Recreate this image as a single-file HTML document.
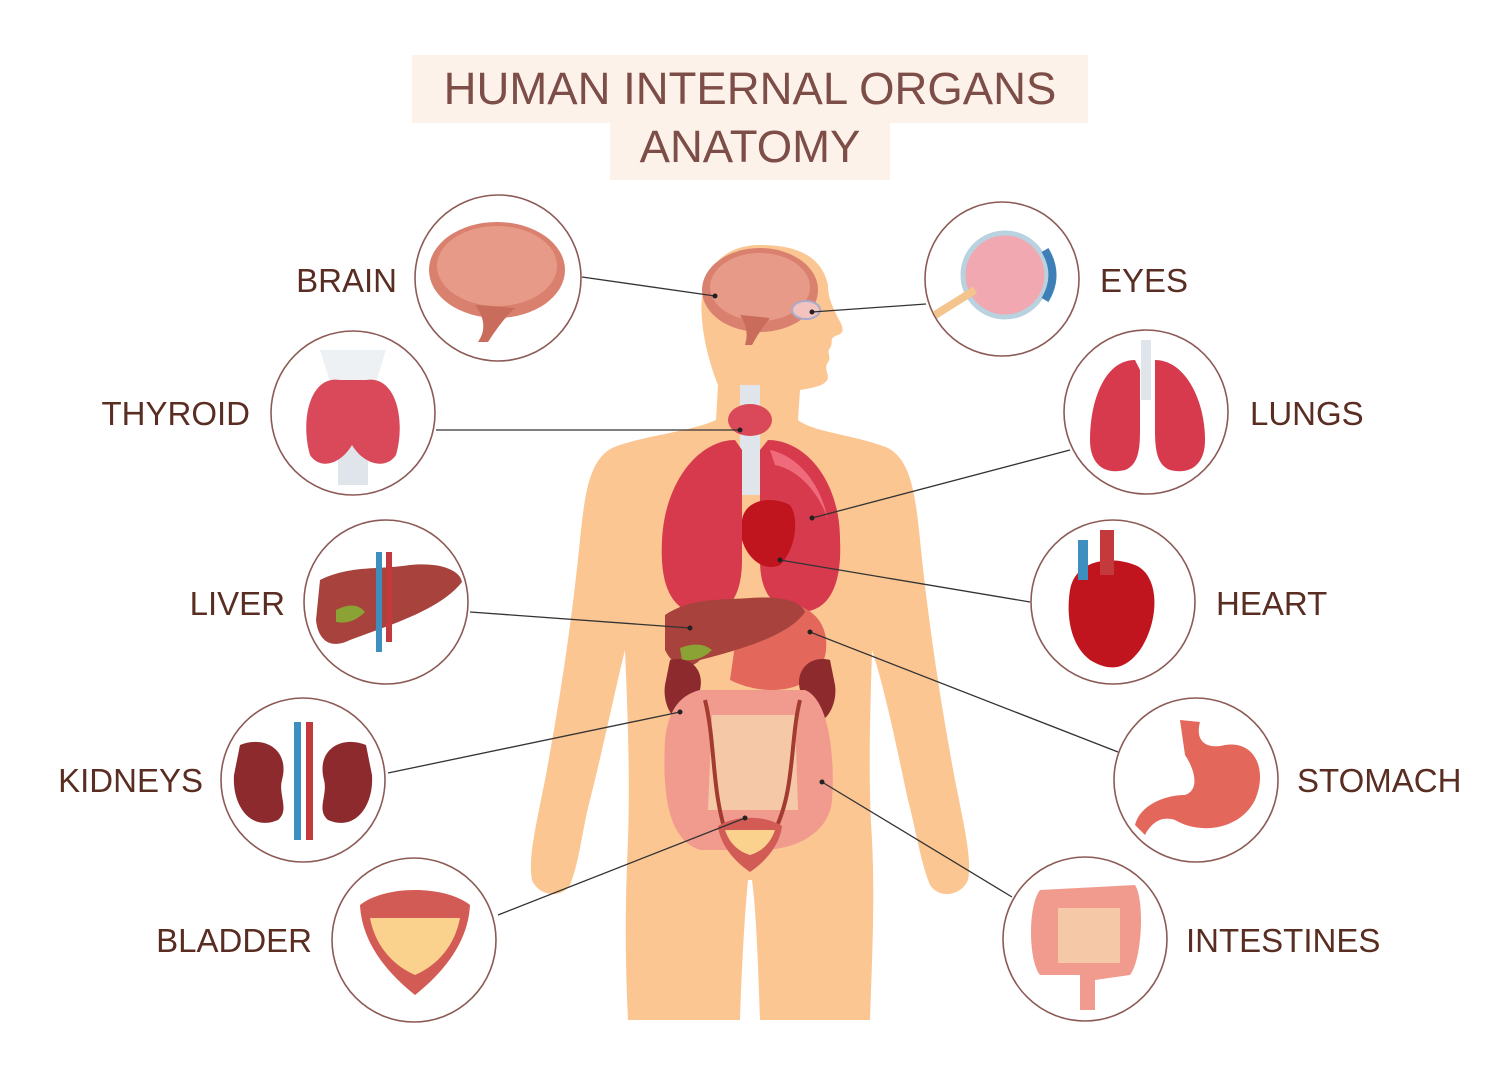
<!DOCTYPE html>
<html><head><meta charset="utf-8"><style>
html,body{margin:0;padding:0;background:#fff;}
svg{display:block}
text{font-family:"Liberation Sans",sans-serif;}
</style></head><body>
<svg width="1500" height="1084" viewBox="0 0 1500 1084" xmlns="http://www.w3.org/2000/svg">
<rect width="1500" height="1084" fill="#fff"/>
<rect x="412" y="55" width="676" height="68" fill="#fdf2ea"/>
<rect x="610" y="122" width="280" height="58" fill="#fdf2ea"/>
<text x="750" y="104" font-size="45.5" fill="#7d4d47" text-anchor="middle">HUMAN INTERNAL ORGANS</text>
<text x="750" y="162" font-size="45.5" fill="#7d4d47" text-anchor="middle">ANATOMY</text>

<path fill="#fbc692" d="M760 245 C715 245 698 280 702 320 C704 345 712 370 718 385 L716 420 C690 432 640 436 612 448 C590 460 585 490 580 540 C572 620 560 700 545 780 C535 830 528 860 532 880 C538 895 560 900 570 885 C580 860 582 830 590 800 C605 740 615 690 625 650 C628 720 630 780 628 840 C625 900 625 960 628 1020 L740 1020 C742 960 745 910 748 880 L752 880 C756 910 758 960 760 1020 L870 1020 C872 960 875 900 872 840 C868 780 870 720 872 650 C885 690 895 740 908 800 C916 830 920 860 930 885 C940 900 962 895 968 880 C972 860 965 830 955 780 C940 700 928 620 920 540 C915 490 910 460 888 448 C860 436 812 432 798 420 L800 390 C812 388 826 386 828 378 C828 372 824 368 828 362 C832 358 826 352 830 348 C834 342 828 338 838 335 C846 332 842 325 838 318 C832 305 828 298 828 285 C822 258 800 245 760 245 Z"/>

<ellipse cx="760" cy="290" rx="58" ry="42" fill="#d9806f"/>
<ellipse cx="760" cy="287" rx="50" ry="34" fill="#e89a88"/>
<path d="M740 315 Q750 330 745 345 L752 345 Q760 330 770 318 Z" fill="#c96c5c"/>
<ellipse cx="806" cy="310" rx="14" ry="9" fill="#f3c3c0" stroke="#aac" stroke-width="2"/>
<rect x="740" y="385" width="20" height="110" fill="#dfe5ea"/>
<ellipse cx="750" cy="420" rx="22" ry="16" fill="#d9495a"/>
<path d="M735 440 C700 440 665 480 662 540 C660 580 668 610 700 615 C725 618 742 600 742 560 L742 450 Z" fill="#d63a4c"/>
<path d="M768 440 C805 440 840 480 840 540 C842 580 832 612 800 612 C775 610 760 595 760 560 L760 450 Z" fill="#d63a4c"/>
<path d="M770 450 C795 455 820 480 828 520 C820 495 800 470 775 465 Z" fill="#ef6b7b"/>
<path d="M742 520 C745 500 770 495 790 505 C800 520 795 550 780 565 C765 572 748 560 742 540 Z" fill="#c0141e"/>
<path d="M740 610 C790 590 830 610 826 650 C822 690 770 700 730 680 Z" fill="#e3675b"/>
<path d="M665 615 C690 598 720 600 750 598 C780 596 800 600 805 612 C790 635 740 650 700 660 C690 670 675 670 665 650 Z" fill="#a7423c"/>
<path d="M680 648 Q700 640 712 650 Q700 662 682 660 Z" fill="#8aa334"/>
<path d="M670 660 C690 655 705 670 700 690 C695 700 705 715 695 722 C675 730 662 705 665 685 Z" fill="#8c2a2e"/>
<path d="M830 660 C810 655 795 670 800 690 C805 700 795 715 805 722 C825 730 838 705 835 685 Z" fill="#8c2a2e"/>
<path d="M700 690 L805 690 C830 700 835 760 832 800 C830 830 800 850 760 850 L700 850 C670 840 662 800 665 740 C668 710 680 695 700 690 Z" fill="#f19b8f"/>
<path d="M712 715 L795 715 L798 810 L708 810 Z" fill="#f5c9a8"/>
<path d="M705 700 C715 740 712 790 725 830 M800 700 C790 740 795 790 775 830" stroke="#a33b30" stroke-width="4" fill="none"/>
<path d="M718 826 C735 815 765 815 782 826 C780 845 765 862 750 872 C735 862 720 845 718 826 Z" fill="#d35b55"/>
<path d="M725 830 L775 830 C770 845 760 852 750 855 C740 852 730 845 725 830 Z" fill="#fad18d"/>

<g stroke="#333" stroke-width="1.3" fill="none">
<line x1="582" y1="277" x2="715" y2="296"/>
<line x1="926" y1="304" x2="812" y2="312"/>
<line x1="436" y1="430" x2="740" y2="430"/>
<line x1="1070" y1="450" x2="812" y2="518"/>
<line x1="1030" y1="602" x2="780" y2="560"/>
<line x1="470" y1="612" x2="690" y2="628"/>
<line x1="1118" y1="752" x2="810" y2="632"/>
<line x1="388" y1="773" x2="680" y2="712"/>
<line x1="498" y1="915" x2="745" y2="818"/>
<line x1="1012" y1="897" x2="822" y2="782"/>
</g>
<g fill="#222">
<circle cx="715" cy="296" r="2.5"/><circle cx="812" cy="312" r="2.5"/><circle cx="740" cy="430" r="2.5"/>
<circle cx="812" cy="518" r="2.5"/><circle cx="780" cy="560" r="2.5"/><circle cx="690" cy="628" r="2.5"/>
<circle cx="810" cy="632" r="2.5"/><circle cx="680" cy="712" r="2.5"/><circle cx="745" cy="818" r="2.5"/><circle cx="822" cy="782" r="2.5"/>
</g>

<g fill="#fff" stroke="#8b5a55" stroke-width="1.6">
<circle cx="498" cy="278" r="83"/>
<circle cx="353" cy="413" r="82"/>
<circle cx="386" cy="602" r="82"/>
<circle cx="303" cy="780" r="82"/>
<circle cx="414" cy="940" r="82"/>
<circle cx="1002" cy="279" r="77"/>
<circle cx="1146" cy="412" r="82"/>
<circle cx="1113" cy="602" r="82"/>
<circle cx="1196" cy="780" r="82"/>
<circle cx="1085" cy="939" r="82"/>
</g>

<ellipse cx="497" cy="270" rx="68" ry="48" fill="#d9806f"/>
<ellipse cx="497" cy="266" rx="60" ry="40" fill="#e89a88"/>
<path d="M475 305 Q490 325 478 342 L488 342 Q502 320 515 308 Z" fill="#c96c5c"/>
<rect x="338" y="350" width="30" height="135" fill="#dfe5ea"/>
<path d="M320 350 L386 350 L372 395 L334 395 Z" fill="#eef1f4"/>
<path d="M340 380 C310 375 300 420 310 455 C320 470 340 465 352 445 C364 465 386 470 396 455 C406 420 396 375 366 380 Z" fill="#d9495a"/>
<path d="M320 580 C350 565 380 570 410 565 C440 562 460 570 462 582 C440 610 390 625 350 640 C330 650 318 640 316 620 Z" fill="#a7423c"/>
<path d="M336 610 Q355 600 365 612 Q352 625 336 622 Z" fill="#8aa334"/>
<rect x="376" y="552" width="6" height="100" fill="#3d8fbf"/><rect x="386" y="552" width="6" height="90" fill="#c4393c"/>
<path d="M240 745 C265 735 290 750 282 780 C278 795 290 810 278 820 C250 832 232 805 234 775 Z" fill="#8c2a2e"/>
<path d="M366 745 C341 735 316 750 324 780 C328 795 316 810 328 820 C356 832 374 805 372 775 Z" fill="#8c2a2e"/>
<rect x="294" y="722" width="7" height="118" fill="#3d8fbf"/><rect x="306" y="722" width="7" height="118" fill="#c4393c"/>
<path d="M360 905 C385 885 445 885 470 905 C468 945 440 975 415 995 C390 975 362 945 360 905 Z" fill="#d35b55"/>
<path d="M370 918 L460 918 C455 945 438 965 415 975 C392 965 375 945 370 918 Z" fill="#fad18d"/>
<circle cx="1005" cy="275" r="42" fill="#f1a8b0" stroke="#b9d2e0" stroke-width="5"/>
<path d="M935 315 L975 290" stroke="#f3c58c" stroke-width="8"/>
<path d="M1045 250 Q1060 275 1045 300" stroke="#3f7fb8" stroke-width="8" fill="none"/>
<rect x="1141" y="340" width="10" height="60" fill="#dfe5ea"/>
<path d="M1135 360 C1105 360 1090 400 1090 440 C1090 465 1105 475 1125 470 C1138 465 1140 450 1140 430 L1140 370 Z" fill="#d63a4c"/>
<path d="M1155 360 C1185 360 1205 400 1205 440 C1205 465 1190 475 1170 470 C1157 465 1155 450 1155 430 L1155 370 Z" fill="#d63a4c"/>
<path d="M1070 590 C1075 560 1110 555 1135 565 C1160 575 1160 620 1140 650 C1125 670 1110 672 1090 660 C1070 645 1066 615 1070 590 Z" fill="#c0141e"/>
<rect x="1078" y="540" width="10" height="40" fill="#3d8fbf"/><rect x="1100" y="530" width="14" height="45" fill="#c4393c"/>
<path d="M1180 720 L1200 722 C1195 740 1205 750 1225 745 C1255 740 1268 770 1255 800 C1240 830 1200 835 1175 820 C1160 815 1150 825 1145 835 L1135 825 C1140 805 1165 795 1185 795 C1200 790 1195 770 1185 755 Z" fill="#e3675b"/>
<path d="M1040 890 L1135 885 C1145 900 1142 960 1130 975 L1095 980 L1095 1010 L1080 1010 L1080 975 L1040 975 C1028 960 1028 905 1040 890 Z" fill="#f19b8f"/>
<rect x="1058" y="908" width="62" height="55" fill="#f5c9a8"/>

<g font-size="33" fill="#5a2d22">
<text x="397" y="292" text-anchor="end">BRAIN</text>
<text x="250" y="425" text-anchor="end">THYROID</text>
<text x="285" y="615" text-anchor="end">LIVER</text>
<text x="203" y="792" text-anchor="end">KIDNEYS</text>
<text x="312" y="952" text-anchor="end">BLADDER</text>
<text x="1100" y="292">EYES</text>
<text x="1250" y="425">LUNGS</text>
<text x="1216" y="615">HEART</text>
<text x="1297" y="792">STOMACH</text>
<text x="1186" y="952">INTESTINES</text>
</g>
</svg>
</body></html>
